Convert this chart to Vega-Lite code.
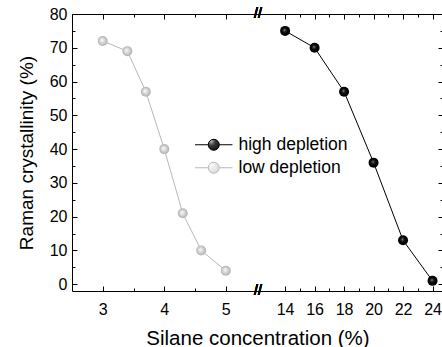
{
  "$schema": "https://vega.github.io/schema/vega-lite/v6.json",
  "width": 371,
  "height": 277,
  "autosize": {"type": "none"},
  "padding": {"left": 72, "top": 14, "right": 0, "bottom": 56},
  "background": "white",
  "config": {
    "view": {"stroke": null},
    "font": "Liberation Sans",
    "axis": {
      "grid": false,
      "domainColor": "black",
      "domainWidth": 1,
      "tickColor": "black",
      "tickWidth": 1,
      "labelFont": "Liberation Sans",
      "labelFontSize": 16,
      "labelColor": "black",
      "titleFont": "Liberation Sans",
      "titleFontSize": 19,
      "titleFontWeight": "normal",
      "titleColor": "black"
    }
  },
  "data": {
    "values": [
      {"series": "low depletion", "silane": 3.0, "crystallinity": 72},
      {"series": "low depletion", "silane": 3.4, "crystallinity": 69},
      {"series": "low depletion", "silane": 3.7, "crystallinity": 57},
      {"series": "low depletion", "silane": 4.0, "crystallinity": 40},
      {"series": "low depletion", "silane": 4.3, "crystallinity": 21},
      {"series": "low depletion", "silane": 4.6, "crystallinity": 10},
      {"series": "low depletion", "silane": 5.0, "crystallinity": 4},
      {"series": "high depletion", "silane": 14, "crystallinity": 75},
      {"series": "high depletion", "silane": 16, "crystallinity": 70},
      {"series": "high depletion", "silane": 18, "crystallinity": 57},
      {"series": "high depletion", "silane": 20, "crystallinity": 36},
      {"series": "high depletion", "silane": 22, "crystallinity": 13},
      {"series": "high depletion", "silane": 24, "crystallinity": 1}
    ]
  },
  "resolve": {"axis": {"x": "independent", "y": "independent"}},
  "layer": [
    {
      "mark": {"type": "line", "strokeWidth": 1},
      "encoding": {
        "x": {
          "field": "silane", "type": "quantitative",
          "scale": {"domain": [2.5, 5.45, 12.5, 24.71], "range": [0, 181.5, 191, 371], "nice": false, "zero": false},
          "axis": {"orient": "bottom", "values": [3, 4, 5, 14, 16, 18, 20, 22, 24], "tickSize": -5, "labelPadding": 15, "title": "Silane concentration (%)", "titlePadding": 11, "titleFontSize": 20.5}
        },
        "y": {
          "field": "crystallinity", "type": "quantitative",
          "scale": {"domain": [-2, 80], "nice": false, "zero": false},
          "axis": {"orient": "left", "values": [0, 10, 20, 30, 40, 50, 60, 70, 80], "tickSize": -5, "labelPadding": 10, "title": "Raman crystallinity (%)", "titlePadding": 13}
        },
        "color": {
          "field": "series", "type": "nominal",
          "scale": {"domain": ["high depletion", "low depletion"], "range": ["#000000", "#b8b8b8"]},
          "legend": {
            "title": null,
            "orient": "none",
            "legendX": 133,
            "legendY": 122,
            "symbolType": "M-3.4,0L-1,0M1,0L3.4,0M-1,0A1,1,0,1,1,1,0A1,1,0,1,1,-1,0Z",
            "symbolSize": 121,
            "symbolStrokeWidth": 1,
            "labelFont": "Liberation Sans",
            "labelFontSize": 17.5,
            "labelColor": "black",
            "labelOffset": 16,
            "rowPadding": 4,
            "encode": {
              "symbols": {
                "update": {
                  "fill": [
                    {"test": "datum.value === 'high depletion'", "value": {"gradient": "radial", "x1": 0.42, "y1": 0.4, "r1": 0, "x2": 0.5, "y2": 0.5, "r2": 0.5, "stops": [{"offset": 0, "color": "#c8c8c8"}, {"offset": 0.2, "color": "#3a3a3a"}, {"offset": 0.5, "color": "#0a0a0a"}, {"offset": 1, "color": "#000000"}]}},
                    {"value": {"gradient": "radial", "x1": 0.4, "y1": 0.4, "r1": 0, "x2": 0.5, "y2": 0.5, "r2": 0.5, "stops": [{"offset": 0, "color": "#ffffff"}, {"offset": 0.35, "color": "#e2e2e2"}, {"offset": 1, "color": "#b0b0b0"}]}}
                  ],
                  "fillOpacity": {"value": 1}
                }
              }
            }
          }
        },
        "detail": {"field": "series"}
      }
    },
    {
      "transform": [{"filter": "datum.series === 'high depletion'"}],
      "mark": {"type": "point", "shape": "circle", "filled": true, "size": 100, "opacity": 1, "strokeWidth": 0,
        "fill": {"gradient": "radial", "x1": 0.42, "y1": 0.4, "r1": 0, "x2": 0.5, "y2": 0.5, "r2": 0.5, "stops": [{"offset": 0, "color": "#c8c8c8"}, {"offset": 0.2, "color": "#3a3a3a"}, {"offset": 0.5, "color": "#0a0a0a"}, {"offset": 1, "color": "#000000"}]}},
      "encoding": {
        "x": {"field": "silane", "type": "quantitative", "axis": {"orient": "top", "values": [3, 4, 5, 14, 16, 18, 20, 22, 24], "tickSize": -5, "labels": false, "title": null}},
        "y": {"field": "crystallinity", "type": "quantitative", "axis": {"orient": "right", "values": [0, 10, 20, 30, 40, 50, 60, 70, 80], "tickSize": -5, "labels": false, "title": null}}
      }
    },
    {
      "transform": [{"filter": "datum.series === 'low depletion'"}],
      "mark": {"type": "point", "shape": "circle", "filled": true, "size": 100, "opacity": 1, "strokeWidth": 0,
        "fill": {"gradient": "radial", "x1": 0.4, "y1": 0.4, "r1": 0, "x2": 0.5, "y2": 0.5, "r2": 0.5, "stops": [{"offset": 0, "color": "#ffffff"}, {"offset": 0.35, "color": "#e2e2e2"}, {"offset": 1, "color": "#b0b0b0"}]}},
      "encoding": {
        "x": {"field": "silane", "type": "quantitative", "axis": {"orient": "bottom", "values": [3.5, 4.5, 15, 17, 19, 21, 23], "tickSize": -3, "labels": false, "title": null, "domain": false}},
        "y": {"field": "crystallinity", "type": "quantitative", "axis": {"orient": "left", "values": [5, 15, 25, 35, 45, 55, 65, 75], "tickSize": -3, "labels": false, "title": null, "domain": false}}
      }
    },
    {
      "mark": {"type": "text", "text": "//", "fontSize": 14, "font": "Liberation Sans", "color": "black", "baseline": "middle", "align": "center"},
      "encoding": {
        "x": {"datum": 8.8, "type": "quantitative", "axis": {"orient": "top", "values": [3.5, 4.5, 15, 17, 19, 21, 23], "tickSize": -3, "labels": false, "title": null, "domain": false}},
        "y": {"datum": 80, "type": "quantitative", "axis": {"orient": "right", "values": [5, 15, 25, 35, 45, 55, 65, 75], "tickSize": -3, "labels": false, "title": null, "domain": false}}
      }
    },
    {
      "mark": {"type": "text", "text": "//", "fontSize": 14, "font": "Liberation Sans", "color": "black", "baseline": "middle", "align": "center"},
      "encoding": {
        "x": {"datum": 8.8, "type": "quantitative", "axis": null},
        "y": {"datum": -2, "type": "quantitative", "axis": null}
      }
    }
  ]
}
